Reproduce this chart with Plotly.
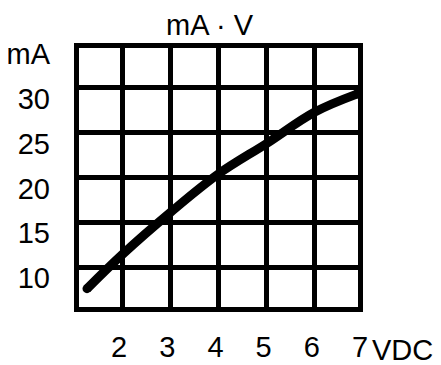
import plotly.graph_objects as go

# readings (VDC vs mA)
voltage = [1.27, 2.0, 3.0, 4.0, 5.0, 6.0, 6.87]
current = [7.6, 11.4, 16.1, 20.4, 23.8, 27.3, 29.3]

x_ticks = [2, 3, 4, 5, 6, 7]
x_labels = ["2", "3", "4", "5", "6", "7"]
y_ticks = [10, 15, 20, 25, 30, 35]
y_labels = ["10", "15", "20", "25", "30", "mA"]
x_range = [1, 7]
y_range = [5, 35]

title_text = "mA \u00b7 V"
unit_text = "VDC"

fontFamily = "Liberation Sans, Arial, sans-serif"
fontSize = 29

# the page body keeps its default 8px margin, so the figure is drawn 8px smaller
pageMargin = 8

fig = go.Figure()
fig.add_trace(go.Scatter(x=voltage, y=current, mode='lines',
                         line=dict(color='black', width=9, shape='spline'),
                         showlegend=False, hoverinfo='skip'))
# round off the two ends of the curve
fig.add_trace(go.Scatter(x=[voltage[0], voltage[-1]], y=[current[0], current[-1]],
                         mode='markers', marker=dict(color='black', size=9),
                         showlegend=False, hoverinfo='skip'))

# heavy outer frame
fig.add_shape(type='rect', xref='x', yref='y',
              x0=x_range[0], x1=x_range[1], y0=y_range[0], y1=y_range[1],
              line=dict(color='black', width=10), layer='above')

fig.add_annotation(text=title_text, xref='paper', yref='paper', x=0.469, y=1,
                   xanchor='center', yanchor='bottom', yshift=0, showarrow=False,
                   font=dict(family=fontFamily, size=fontSize, color='black'))
fig.add_annotation(text=unit_text, xref='x', yref='paper', x=x_ticks[-1], y=0,
                   xanchor='left', yanchor='top', xshift=7, yshift=-20, showarrow=False,
                   font=dict(family=fontFamily, size=fontSize, color='black'))

fig.update_xaxes(range=x_range, tickvals=x_ticks, ticktext=x_labels,
                 showgrid=True, gridcolor='black', gridwidth=4.5,
                 zeroline=False, showline=False, ticks='', automargin=False,
                 ticklabelstandoff=15, ticklabelshift=-3,
                 tickfont=dict(family=fontFamily, size=fontSize, color='black'))
fig.update_yaxes(range=y_range, tickvals=y_ticks, ticktext=y_labels,
                 showgrid=True, gridcolor='black', gridwidth=4.5,
                 zeroline=False, showline=False, ticks='', automargin=False,
                 ticklabelstandoff=23, ticklabelshift=11,
                 tickfont=dict(family=fontFamily, size=fontSize, color='black'))

fig.update_layout(width=441 - pageMargin, height=365 - pageMargin,
                  margin=dict(l=74 - pageMargin, r=78, t=43 - pageMargin, b=53),
                  paper_bgcolor='white', plot_bgcolor='white')

fig.write_html("out.html")
